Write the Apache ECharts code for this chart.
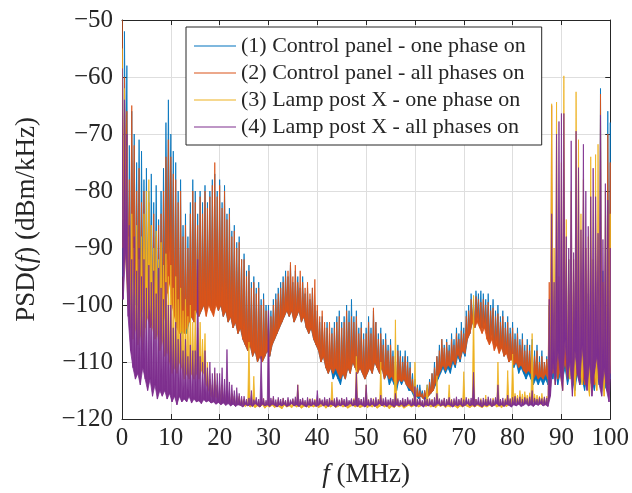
<!DOCTYPE html>
<html>
<head>
<meta charset="utf-8">
<script src="https://cdn.jsdelivr.net/npm/echarts@6/dist/echarts.min.js"></script>
<style>
  html, body { margin: 0; padding: 0; background: #fff; }
  #main { width: 632px; height: 493px; }
</style>
</head>
<body>
<div id="main"></div>
<script>
// frequency step of the envelope tables (MHz), values in dBm/kHz
const step = 0.5;
const names = [
  '(1) Control panel - one phase on',
  '(2) Control panel - all phases on',
  '(3) Lamp post X - one phase on',
  '(4) Lamp post X - all phases on'
];
const colors = ['#0072BD', '#D95319', '#EDB120', '#7E2F8E'];
const xTicks = [0, 10, 20, 30, 40, 50, 60, 70, 80, 90, 100];
const yTicks = [-120, -110, -100, -90, -80, -70, -60, -50];

// peaks / troughs, one value per 0.5 MHz
const cpOneHi = [
  -64,-52,-58,-72,-66,-70,-75,-71,-73,-78,
  -76,-80,-77,-82,-79,-85,-80,-76,-68,-64,
  -70,-73,-75,-80,-78,-86,-84,-88,-82,-78,
  -80,-84,-80,-82,-79,-82,-80,-78,-77,-80,
  -78,-82,-79,-84,-83,-87,-86,-89,-88,-92,
  -91,-94,-93,-96,-95,-97,-96,-99,-98,-100,
  -100,-101,-99,-98,-97,-96,-95,-94,-95,-93,
  -96,-94,-95,-97,-95,-98,-97,-99,-97,-100,
  -101,-103,-102,-104,-103,-105,-104,-103,-102,-101,
  -103,-102,-100,-101,-99,-102,-101,-104,-103,-105,
  -104,-102,-104,-101,-103,-105,-104,-106,-105,-107,
  -106,-108,-109,-107,-108,-109,-108,-109,-110,-112,
  -113,-114,-114,-115,-115,-114,-113,-112,-110,-109,
  -107,-106,-107,-106,-107,-105,-106,-104,-105,-103,
  -104,-101,-100,-98,-99,-97.5,-98,-97.5,-98,-99,
  -98,-100,-99,-101,-100,-102,-101,-103,-102,-104,
  -103,-105,-104,-106,-105,-107,-106,-107,-106,-108,
  -107,-109,-108,-110,-109,-100,-95,-108,-90,-100,
  -105,-95,-108,-92,-104,-96,-88,-100,-106,-90,
  -102,-98,-92,-104,-96,-100,-62,-94,-100,-66,
  -68
];
const cpOneLo = [
  -95,-80,-100,-98,-95,-100,-97,-100,-98,-101,
  -99,-102,-100,-103,-101,-103,-100,-96,-92,-90,
  -95,-100,-103,-104,-105,-104,-105,-103,-102,-103,
  -101,-102,-101,-100,-101,-99,-100,-101,-99,-101,
  -100,-102,-101,-103,-102,-104,-103,-105,-104,-106,
  -107,-108,-107,-109,-108,-110,-109,-110,-109,-108,
  -109,-107,-106,-105,-104,-103,-102,-101,-102,-101,
  -103,-102,-101,-103,-102,-104,-105,-104,-106,-107,
  -108,-110,-109,-111,-112,-111,-113,-112,-113,-114,
  -112,-113,-111,-112,-110,-111,-112,-111,-112,-113,
  -112,-111,-112,-110,-111,-112,-111,-113,-112,-114,
  -113,-114,-115,-113,-114,-113,-114,-115,-115,-116,
  -116,-116.5,-116,-116.5,-116.5,-116,-115.5,-115,-114,-113,
  -112,-111,-112,-111,-112,-110,-111,-109,-110,-108,
  -109,-106,-105,-103,-104,-102,-103,-104,-103,-105,
  -106,-105,-107,-106,-108,-107,-109,-108,-110,-109,
  -111,-110,-112,-111,-112,-113,-112,-113,-114,-113,
  -114,-113,-114,-113,-114,-112,-113,-111,-114,-112,
  -113,-111,-114,-112,-113,-115,-112,-114,-113,-115,
  -112,-114,-113,-115,-112,-114,-113,-115,-114,-112,
  -113
];
const cpAllHi = [
  -50,-60,-66,-78,-65,-72,-80,-76,-82,-80,
  -84,-82,-86,-84,-88,-86,-84,-80,-74,-71,
  -74,-77,-78,-82,-80,-88,-86,-90,-84,-80,
  -82,-86,-81,-84,-80,-83,-81,-79,-75,-81,
  -79,-83,-80,-85,-84,-88,-87,-90,-89,-92,
  -92,-95,-94,-97,-96,-98,-97,-100,-99,-101,
  -101,-102,-100,-99,-98,-97,-96,-95,-94,-92.5,
  -95,-93,-96,-94,-96,-97,-96,-98,-97,-95.5,
  -100,-102,-101,-103,-104,-103,-105,-104,-103,-102,
  -104,-103,-101,-103,-102,-103,-102,-105,-104,-106,
  -105,-103,-105,-100.5,-103,-106,-105,-107,-106,-108,
  -107,-109,-110,-108,-109,-110,-109,-110,-111,-113,
  -114,-114.5,-115,-115.5,-115,-114.5,-113.5,-112,-111,-109,
  -108,-106,-107.5,-106.5,-108,-106,-107,-105,-106,-104.5,
  -105,-102,-101,-99,-100,-98.5,-99,-99.5,-99,-100,
  -99.5,-101,-100.5,-102,-101.5,-103,-102,-104,-103,-105,
  -104,-106,-105,-107,-106,-108,-107,-108,-107,-109,
  -108,-110,-109,-110,-109.5,-96,-65,-106,-96,-108,
  -100,-94,-106,-98,-104,-92,-100,-106,-96,-102,
  -90,-106,-98,-102,-94,-104,-63,-96,-104,-70,
  -75
];
const cpAllLo = [
  -90,-78,-95,-100,-93,-98,-100,-102,-101,-103,
  -102,-104,-103,-105,-104,-106,-104,-102,-98,-96,
  -100,-102,-104,-105,-104.5,-105,-104,-103,-102,-103,
  -101,-102,-101,-100,-102,-100,-101,-102,-100,-101,
  -100,-102,-101,-103,-102,-104,-103,-105,-104,-106,
  -107,-108,-107,-109,-108,-110,-109,-110,-109,-108,
  -109,-107,-106,-105,-104,-103,-102,-101,-102,-101,
  -103,-102,-101,-103,-102,-104,-105,-104,-106,-107,
  -108,-110,-109,-111,-112,-111,-112,-111,-112,-113,
  -112,-113,-111,-112,-110,-111,-112,-111,-112,-113,
  -112,-111,-112,-110,-111,-112,-111,-113,-112,-113,
  -112.5,-113.5,-114,-113,-113.5,-113,-114,-114.5,-115,-115.5,
  -116,-116,-116,-116.5,-116,-116,-115.5,-115,-113.5,-112.5,
  -111.5,-110.5,-111.5,-110.5,-111,-109.5,-110.5,-108.5,-109.5,-108,
  -108.5,-106,-105,-103,-104,-103,-104,-105,-104,-106,
  -107,-106,-108,-107,-108.5,-107.5,-109,-108.5,-110,-109.5,
  -110.5,-110,-111,-110.5,-111.5,-112,-111.5,-112,-113,-112,
  -113,-112.5,-113,-112,-113,-111,-112,-110,-113,-111,
  -112,-110,-113,-111,-112,-114,-111,-113,-112,-114,
  -111,-113,-112,-114,-111,-113,-112,-114,-113,-111,
  -112
];
const lpOneHi = [
  -55,-62,-72,-88,-84,-90,-86,-92,-88,-84,
  -80,-78,-86,-90,-87,-92,-89,-93,-91,-95,
  -93,-97,-95,-99,-97,-101,-99,-102,-100,-103,
  -101,-104,-103,-106,-105,-110,-113,-114,-112,-114,
  -115,-114,-115.5,-115,-116,-115.5,-116,-116.5,-116,-116.5,
  -116.5,-117,-106.5,-116.8,-112.5,-117,-116.6,-116.8,-116.4,-117,
  -116.5,-116.8,-116.3,-117,-116.5,-116.9,-116.4,-116.8,-116.6,-117,
  -116.5,-116.8,-114,-116.8,-116.5,-117,-116.6,-116.4,-116.9,-116.5,
  -116.7,-116.4,-116.9,-116.5,-116.8,-116.4,-113.5,-116.7,-116.5,-116.9,
  -116.4,-116.8,-116.5,-117,-116.6,-116.4,-109,-116.8,-116.5,-116.9,
  -114,-116.6,-116.8,-116.4,-116.7,-116.5,-110,-116.8,-116.5,-117,
  -116.4,-116.8,-102.6,-116.6,-117,-116.5,-116.8,-116.4,-116.9,-116.5,
  -110,-116.7,-116.4,-116.9,-116.5,-114,-116.8,-116.5,-116.9,-112.4,
  -116.6,-116.8,-116.4,-116.7,-114,-116.5,-116.8,-116.4,-116.7,-116.5,
  -111.7,-116.8,-116.4,-116.7,-98.3,-116.5,-116.8,-116.4,-116.7,-115.8,
  -116.5,-116.8,-116.3,-116.7,-110,-116.5,-116.8,-116.4,-111.5,-116.6,
  -108.6,-115.5,-115.8,-115,-115.6,-115.2,-115.8,-115.4,-105,-115.6,
  -115.8,-116,-115.5,-116.2,-116,-100,-64.7,-90,-64.4,-95,
  -75,-59.8,-85,-92,-80,-96,-62.6,-71,-84,-78,
  -94,-88,-74,-92,-73.6,-71.8,-86,-96,-80,-90,
  -84
];
const lpOneLo = [
  -85,-92,-100,-104,-106,-104,-107,-105,-108,-104,
  -102,-100,-104,-106,-105,-108,-106,-109,-108,-110,
  -112,-111,-112,-110,-111,-113,-112,-113,-112,-113,
  -112,-113,-111.5,-112,-114,-115,-116,-116.5,-116,-116.8,
  -117,-116.8,-117.2,-117,-117.4,-117.2,-117.5,-117.3,-117.6,-117.4,
  -117.8,-117.5,-117.9,-117.6,-118,-117.7,-117.9,-117.5,-118.1,-117.7,
  -117.9,-117.6,-118,-117.7,-117.9,-118.2,-117.6,-117.9,-117.7,-118,
  -117.6,-117.9,-117.7,-118.1,-117.8,-117.6,-118,-117.7,-117.9,-117.6,
  -118,-117.8,-117.6,-118.1,-117.7,-117.9,-117.6,-118,-117.8,-117.6,
  -117.9,-117.7,-118.1,-117.8,-117.6,-117.9,-117.7,-118,-117.8,-117.6,
  -118,-117.7,-117.9,-117.6,-118.1,-117.8,-117.6,-117.9,-117.7,-118.2,
  -117.8,-118,-117.6,-117.9,-117.7,-118.1,-117.8,-117.6,-117.9,-117.7,
  -117.6,-117.9,-117.7,-117.5,-117.8,-117.6,-117.9,-117.7,-118,-117.6,
  -117.8,-117.6,-118,-117.7,-117.9,-117.6,-117.8,-118.1,-117.7,-117.9,
  -117.6,-117.8,-118,-117.7,-117.9,-117.6,-117.8,-118,-117.7,-117.9,
  -117.6,-117.8,-117.5,-117.9,-117.7,-118,-117.6,-117.8,-117.5,-117.7,
  -117.2,-117,-117.4,-117.1,-117.3,-117,-117.4,-117.2,-117,-117.3,
  -117.1,-117.4,-117.2,-117.5,-117.3,-112,-108,-114,-106,-112,
  -115,-104,-110,-113,-108,-116,-105,-111,-114,-107,
  -113,-116,-109,-112,-115,-106,-111,-116,-108,-114,
  -110
];
const lpAllHi = [
  -58.5,-64,-70,-86,-92,-88,-94,-90,-95,-92,
  -97,-93,-96,-94,-98,-93.5,-97,-99,-96,-100,
  -100,-104,-103,-106,-105,-108,-106,-109,-107,-108,
  -108,-92,-109,-110,-108,-111,-110,-112,-111,-112,
  -112,-111,-113,-107.8,-113.5,-114,-115,-114.5,-115.5,-116,
  -116,-116.5,-116.3,-115,-116.6,-116.2,-116.5,-109,-116.4,-116.7,
  -101,-116.3,-116,-116.6,-116.2,-116.5,-116.3,-116.7,-116.2,-116.6,
  -116.4,-116.1,-114,-116.5,-116.3,-116.7,-116.2,-116.5,-116.4,-116.7,
  -115,-116.4,-116.6,-116.2,-116.5,-116.3,-116.7,-116.4,-116.2,-116.6,
  -116.3,-116.5,-116.2,-116.7,-116.4,-116.6,-111.8,-116.3,-116.5,-116.2,
  -114,-116.6,-116.3,-116.5,-116.2,-116.6,-115.8,-116.4,-116.2,-116.6,
  -116.3,-116.5,-115.5,-116.4,-116.7,-116.3,-116.5,-116.2,-116.6,-116.4,
  -114.3,-116.5,-116.3,-116.7,-116.2,-116.5,-116.4,-116.6,-116.2,-115.5,
  -116.4,-116.6,-116.3,-116.5,-116.2,-116.6,-116.4,-116.1,-116.5,-116.3,
  -116.6,-116.2,-116.5,-116.3,-111.8,-116.5,-116.2,-116.6,-116.3,-116.5,
  -116.1,-116.4,-116.6,-116.2,-114,-116.5,-116.3,-116.6,-115.8,-116.4,
  -116.2,-116,-116.4,-116.1,-116.5,-116.2,-116.4,-116.1,-115,-116.3,
  -116.5,-116.2,-116.4,-116.1,-116.3,-99,-84,-96,-70,-67.8,
  -66.4,-66.4,-88,-90,-71.2,-90.8,-69.5,-75.9,-86.8,-71.8,
  -80,-86.2,-81,-76,-81,-87.4,-66.7,-88.5,-78.7,-81.6,
  -90
];
const lpAllLo = [
  -99,-90,-102,-108,-111,-113,-112,-114,-111,-113,
  -115,-113,-116,-114,-116.5,-115,-116,-115,-116.5,-115.5,
  -117,-116,-117.5,-116,-117,-116.5,-117,-116,-117.2,-116.5,
  -117,-116.8,-117.3,-116.6,-117,-116.8,-117.2,-117,-117.4,-117.1,
  -117.5,-117.2,-117.6,-117.3,-117.7,-117.4,-117.8,-117.5,-117.6,-117.9,
  -117.4,-117.7,-117.5,-117.8,-117.3,-117.6,-117.9,-117.4,-117.7,-117.5,
  -117.8,-117.4,-117.6,-117.9,-117.5,-117.7,-117.4,-117.8,-117.6,-117.3,
  -117.7,-117.5,-117.8,-117.4,-117.6,-117.9,-117.5,-117.7,-117.4,-117.8,
  -117.6,-117.3,-117.7,-117.5,-117.8,-117.4,-117.6,-117.9,-117.5,-117.7,
  -117.4,-117.8,-117.6,-117.3,-117.7,-117.5,-117.8,-117.4,-117.6,-117.9,
  -117.5,-117.7,-117.4,-117.8,-117.6,-117.3,-117.7,-117.5,-117.8,-117.4,
  -117.6,-117.9,-117.5,-117.7,-117.4,-117.8,-117.6,-117.3,-117.7,-117.5,
  -117.8,-117.4,-117.6,-117.9,-117.5,-117.7,-117.4,-117.8,-117.6,-117.3,
  -117.7,-117.5,-117.8,-117.4,-117.6,-117.9,-117.5,-117.7,-117.4,-117.8,
  -117.6,-117.3,-117.7,-117.5,-117.8,-117.4,-117.6,-117.9,-117.5,-117.7,
  -117.4,-117.8,-117.6,-117.3,-117.7,-117.5,-117.8,-117.4,-117.6,-117.9,
  -117.5,-117.7,-117.4,-117.8,-117.6,-117.3,-117.7,-117.5,-117.8,-117.4,
  -117.6,-117.3,-117.7,-117.5,-117.8,-116,-110,-114,-108,-112,
  -115,-106,-113,-110,-116,-108,-112,-114,-107,-113,
  -115,-110,-116,-112,-109,-114,-116,-111,-115,-117,
  -113
];

const hiSets = [cpOneHi, cpAllHi, lpOneHi, lpAllHi];
const loSets = [cpOneLo, cpAllLo, lpOneLo, lpAllLo];

// peak at f, trough a quarter step later
function trace(hi, lo) {
  const pts = [];
  hi.forEach((v, i) => {
    const f = i * step;
    pts.push([f, v]);
    pts.push([Math.min(f + step / 2, 100), lo[i]]);
  });
  return pts;
}

const font = 'Liberation Serif';
const ink = '#262626';
const minus = v => String(v).replace('-', '\u2212');

// dense trace: fill between the peak/trough zigzag and the trough line
function bandSeries(k) {
  const pts = trace(hiSets[k], loSets[k]);
  return {
    name: names[k],
    type: 'custom',
    data: pts,
    encode: { x: 0, y: 1 },
    progressive: 0,
    clip: true,
    z: 2 + k,
    itemStyle: { color: colors[k] },
    renderItem: (params, api) => {
      if (params.dataIndex !== 0) return null;
      const top = pts.map(p => api.coord(p));
      const bottom = pts.filter((p, j) => j % 2 === 1).map(p => api.coord(p)).reverse();
      return {
        type: 'polygon',
        shape: { points: top.concat(bottom) },
        style: { fill: colors[k], stroke: colors[k], lineWidth: 0.8 }
      };
    }
  };
}

const chart = echarts.init(document.getElementById('main'));

const tickCommon = { show: true, inside: true, length: 5, lineStyle: { color: ink } };
const lineCommon = { show: true, onZero: false, lineStyle: { color: ink, width: 1 } };
const nameStyle = size => ({ fontFamily: font, fontSize: size, color: ink,
  rich: { i: { fontFamily: font, fontSize: size, fontStyle: 'italic', color: ink } } });

chart.setOption({
  animation: false,
  backgroundColor: '#fff',
  grid: { left: 122, right: 20, top: 20, bottom: 67 },
  legend: {
    orient: 'vertical',
    left: 186,
    top: 27,
    data: names,
    icon: 'rect',
    itemWidth: 42,
    itemHeight: 1.2,
    itemGap: 5,
    padding: [8, 16, 7, 8],
    backgroundColor: '#fff',
    borderColor: ink,
    borderWidth: 1,
    borderRadius: 0,
    textStyle: { fontFamily: font, fontSize: 22, color: ink, lineHeight: 22 }
  },
  xAxis: [
    {
      type: 'value', min: 0, max: 100, interval: 10,
      axisLine: lineCommon, axisTick: tickCommon,
      axisLabel: { fontFamily: font, fontSize: 25, color: ink, margin: 7,
        customValues: xTicks, formatter: minus },
      splitLine: { show: true, lineStyle: { color: '#dedede', width: 1 } },
      name: '{i|f} (MHz)', nameLocation: 'middle', nameGap: 42,
      nameTextStyle: nameStyle(27)
    },
    {
      type: 'value', position: 'top', min: 0, max: 100, interval: 10,
      axisLine: lineCommon, axisTick: tickCommon,
      axisLabel: { show: false }, splitLine: { show: false }
    }
  ],
  yAxis: [
    {
      type: 'value', min: -120, max: -50, interval: 10,
      axisLine: lineCommon, axisTick: tickCommon,
      axisLabel: { fontFamily: font, fontSize: 25, color: ink, margin: 9,
        customValues: yTicks, formatter: minus },
      splitLine: { show: true, lineStyle: { color: '#dedede', width: 1 } },
      name: 'PSD({i|f}) (dBm/kHz)', nameLocation: 'middle', nameGap: 82,
      nameTextStyle: nameStyle(27)
    },
    {
      type: 'value', position: 'right', min: -120, max: -50, interval: 10,
      axisLine: lineCommon, axisTick: tickCommon,
      axisLabel: { show: false }, splitLine: { show: false }
    }
  ],
  series: names.map((n, k) => bandSeries(k))
});
</script>
</body>
</html>
